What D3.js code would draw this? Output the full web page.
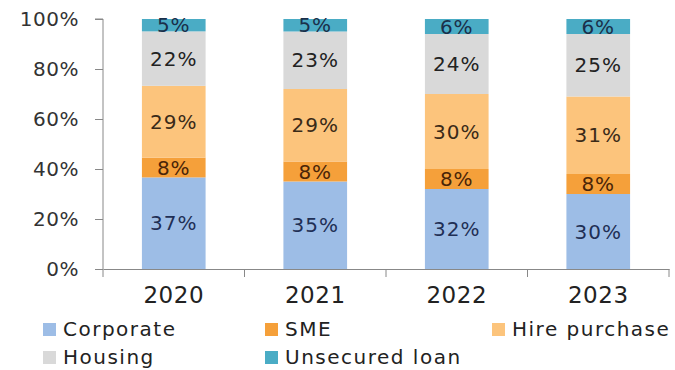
<!DOCTYPE html>
<html>
<head>
<meta charset="utf-8">
<script src="https://cdn.jsdelivr.net/npm/d3@7"></script>
<style>
  body { margin: 0; background: #fff; }
  text { font-family: "DejaVu Sans", Verdana, sans-serif; }
</style>
</head>
<body>
<div id="vis"></div>
<script>
var years = ["2020", "2021", "2022", "2023"];
var seriesNames = ["Corporate", "SME", "Hire purchase", "Housing", "Unsecured loan"];
var corporate = [37, 35, 32, 30];
var sme = [8, 8, 8, 8];
var hirePurchase = [29, 29, 30, 31];
var housing = [22, 23, 24, 25];
var unsecured = [5, 5, 6, 6];
var yTicks = [0, 0.2, 0.4, 0.6, 0.8, 1];

var colours = ["#9dbde6", "#f5a03a", "#fcc47c", "#d9d9d9", "#4aacc5"];
var labelColours = ["#1f2f55", "#4a2508", "#3a2a18", "#222222", "#1a2f4a"];

var width = 675, height = 370;

var rows = years.map(function(y, i) {
  return {
    year: y,
    "Corporate": corporate[i],
    "SME": sme[i],
    "Hire purchase": hirePurchase[i],
    "Housing": housing[i],
    "Unsecured loan": unsecured[i]
  };
});

var stacked = d3.stack()
  .keys(seriesNames)
  .offset(d3.stackOffsetExpand)(rows);

var svg = d3.select('#vis')
  .append('svg')
  .attr('width', width)
  .attr('height', height);

var x = d3.scaleBand()
  .domain(years)
  .range([103, 669])
  .paddingInner(0.55)
  .paddingOuter(0.275);

var y = d3.scaleLinear()
  .domain([0, 1])
  .range([269, 19]);

// bars
var layers = svg.selectAll('.layer')
  .data(stacked)
  .enter()
  .append('g')
  .attr('class', 'layer')
  .attr('fill', function(d, i) { return colours[i]; });

layers.selectAll('rect')
  .data(function(d) { return d; })
  .enter()
  .append('rect')
  .attr('x', function(d) { return x(d.data.year); })
  .attr('width', x.bandwidth())
  .attr('y', function(d) { return y(d[1]); })
  .attr('height', function(d) { return y(d[0]) - y(d[1]); });

// value labels
stacked.forEach(function(layer, li) {
  svg.append('g')
    .selectAll('text')
    .data(layer)
    .enter()
    .append('text')
    .attr('x', function(d) { return x(d.data.year) + x.bandwidth() / 2; })
    .attr('y', function(d) { return (y(d[0]) + y(d[1])) / 2; })
    .attr('dy', '0.36em')
    .attr('text-anchor', 'middle')
    .attr('font-size', 20)
    .attr('letter-spacing', 1)
    .attr('fill', labelColours[li])
    .text(function(d) { return d.data[layer.key] + '%'; });
});

// y axis
var yAxis = d3.axisLeft(y)
  .tickValues(yTicks)
  .tickFormat(d3.format('.0%'))
  .tickSize(8)
  .tickPadding(16);

var gy = svg.append('g')
  .attr('transform', 'translate(103,0)')
  .call(yAxis);
gy.select('.domain').attr('stroke', '#888').attr('d', 'M-8,' + y(1) + 'H0V' + y(0));
gy.selectAll('.tick line').attr('stroke', '#888');
gy.selectAll('.tick text')
  .attr('font-size', 20)
  .attr('letter-spacing', 0.5)
  .attr('fill', '#333')
  .style('font-family', '"DejaVu Sans", Verdana, sans-serif');

// x axis
var xAxis = d3.axisBottom(x).tickSize(0).tickPadding(18);
var gx = svg.append('g')
  .attr('transform', 'translate(0,269)')
  .call(xAxis);
gx.select('.domain').attr('stroke', '#888');
gx.selectAll('.tick text')
  .attr('font-size', 23)
  .attr('letter-spacing', 0.5)
  .attr('fill', '#222')
  .style('font-family', '"DejaVu Sans", Verdana, sans-serif');

var gap = (x.step() - x.bandwidth()) / 2;
var edges = years.map(function(d) { return x(d) - gap; });
edges.push(x(years[years.length - 1]) + x.bandwidth() + gap);
gx.selectAll('.sep')
  .data(edges)
  .enter()
  .append('line')
  .attr('class', 'sep')
  .attr('x1', function(d) { return d; })
  .attr('x2', function(d) { return d; })
  .attr('y1', 0)
  .attr('y2', 8)
  .attr('stroke', '#888');

// legend
var legendPos = [[43, 323], [265, 323], [492, 323], [43, 351], [265, 351]];
var legend = svg.selectAll('.legend')
  .data(seriesNames)
  .enter()
  .append('g')
  .attr('class', 'legend')
  .attr('transform', function(d, i) { return 'translate(' + legendPos[i][0] + ',' + legendPos[i][1] + ')'; });

legend.append('rect')
  .attr('width', 13)
  .attr('height', 13)
  .attr('fill', function(d, i) { return colours[i]; });

legend.append('text')
  .attr('x', 20)
  .attr('y', 13)
  .attr('font-size', 20)
  .attr('letter-spacing', 1.5)
  .attr('fill', '#222')
  .text(function(d) { return d; });
</script>
</body>
</html>
